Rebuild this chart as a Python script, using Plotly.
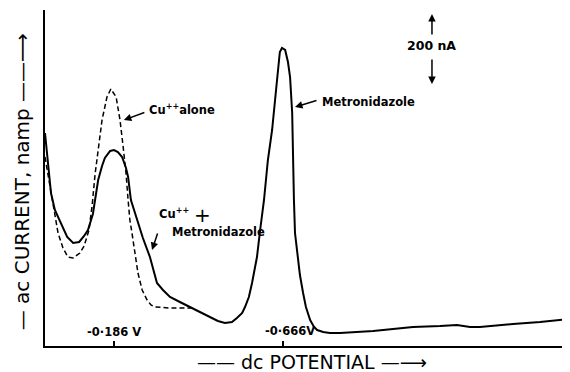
import plotly.graph_objects as go

# dc potential (V) and ac current (nA)
solid_v = [0.010, 0.001, -0.007, -0.018, -0.033, -0.053, -0.070, -0.087, -0.101, -0.112,
           -0.126, -0.132, -0.141, -0.152, -0.160, -0.175, -0.186, -0.197, -0.209, -0.220,
           -0.226, -0.234, -0.251, -0.268, -0.288, -0.308, -0.325, -0.345, -0.373, -0.402,
           -0.450, -0.481, -0.501, -0.521, -0.535, -0.550, -0.558, -0.569, -0.578, -0.586,
           -0.592, -0.601, -0.612, -0.623, -0.635, -0.649, -0.657, -0.663, -0.672, -0.680,
           -0.686, -0.692, -0.694, -0.697, -0.700, -0.709, -0.714, -0.723, -0.731, -0.743,
           -0.754, -0.763, -0.780, -0.799, -0.828, -0.922, -1.035, -1.112, -1.160, -1.197,
           -1.225, -1.319, -1.396, -1.481]
solid_i = [639, 543, 459, 408, 372, 327, 309, 312, 330, 348,
           396, 438, 498, 540, 564, 585, 588, 582, 567, 534,
           507, 438, 378, 324, 267, 189, 168, 147, 132, 117,
           93, 75, 69, 72, 84, 99, 117, 147, 189, 228,
           267, 348, 438, 558, 648, 798, 882, 894, 888, 852,
           807, 699, 549, 438, 339, 267, 213, 159, 117, 78,
           57, 48, 42, 39, 39, 45, 57, 60, 63, 57,
           57, 66, 72, 81]

dashed_v = [0.010, 0.001, -0.007, -0.016, -0.027, -0.041, -0.055, -0.070, -0.089, -0.101,
            -0.109, -0.115, -0.124, -0.132, -0.141, -0.152, -0.166, -0.177, -0.192, -0.203,
            -0.212, -0.220, -0.226, -0.231, -0.237, -0.246, -0.254, -0.266, -0.280, -0.291,
            -0.302, -0.345, -0.408]
dashed_i = [567, 513, 453, 408, 339, 294, 267, 264, 279, 300,
            327, 348, 423, 513, 588, 678, 747, 771, 747, 678,
            597, 519, 438, 378, 339, 273, 219, 168, 138, 123,
            117, 114, 114]

peak_ticks = [-0.186, -0.666]
peak_labels = ["-0·186 V", "-0·666V"]

BOLD = "DejaVu Sans"
fig = go.Figure()
fig.add_trace(go.Scatter(x=dashed_v, y=dashed_i, mode="lines",
                         line=dict(color="black", width=1.5, dash="5px,3px"),
                         hoverinfo="skip", showlegend=False))
fig.add_trace(go.Scatter(x=solid_v, y=solid_i, mode="lines",
                         line=dict(color="black", width=2),
                         hoverinfo="skip", showlegend=False))

ann_font = dict(family=BOLD, size=11.5, color="black", weight="bold")
arrow = dict(showarrow=True, arrowhead=2, arrowsize=1, arrowwidth=1.5, arrowcolor="black")
annotations = [
    # Cu++ alone
    dict(x=-0.280, y=711, text="Cu<sup>++</sup>alone", showarrow=False,
         xanchor="left", yanchor="middle", font=ann_font),
    dict(x=-0.214, y=678, ax=22, ay=-8, text="", **arrow),
    # Cu++ + Metronidazole
    dict(x=-0.308, y=399, text="Cu<sup>++</sup>", showarrow=False,
         xanchor="left", yanchor="middle", font=ann_font),
    dict(x=-0.436, y=393, text="+", showarrow=False,
         xanchor="center", yanchor="middle",
         font=dict(family="DejaVu Sans", size=20, color="black")),
    dict(x=-0.345, y=342, text="Metronidazole", showarrow=False,
         xanchor="left", yanchor="middle", font=ann_font),
    dict(x=-0.294, y=288, ax=6, ay=-18, text="", **arrow),
    # Metronidazole peak
    dict(x=-0.771, y=732, text="Metronidazole", showarrow=False,
         xanchor="left", yanchor="middle", font=ann_font),
    dict(x=-0.700, y=717, ax=23, ay=-7, text="", **arrow),
    # 200 nA scale
    dict(x=-1.089, y=903, text="200 nA", showarrow=False,
         xanchor="center", yanchor="middle",
         font=dict(family=BOLD, size=12.5, color="black", weight="bold")),
    dict(x=-1.089, y=996, ax=0, ay=22, text="", **arrow),
    dict(x=-1.089, y=786, ax=0, ay=-26, text="", **arrow),
    # peak potential labels
    dict(x=peak_ticks[0], y=42, text=peak_labels[0], showarrow=False,
         xanchor="center", yanchor="middle",
         font=dict(family=BOLD, size=11.5, color="black", weight="bold")),
    dict(x=-0.686, y=45, text=peak_labels[1], showarrow=False,
         xanchor="center", yanchor="middle",
         font=dict(family=BOLD, size=11.5, color="black", weight="bold")),
    # axis titles
    dict(xref="paper", yref="paper", x=-0.044, y=0.49,
         text="— ac CURRENT, namp ——⟶", textangle=-90, showarrow=False,
         xanchor="center", yanchor="middle",
         font=dict(family="DejaVu Sans", size=20, color="black")),
    dict(xref="paper", yref="paper", x=0.509, y=-0.049,
         text="—— dc POTENTIAL —⟶", showarrow=False,
         xanchor="center", yanchor="middle",
         font=dict(family="DejaVu Sans", size=19, color="black")),
]

# the page body has an 8px margin, so the figure is sized to end at the window edge
fig.update_layout(
    width=562, height=364,
    margin=dict(l=37, r=0, t=2, b=26),
    paper_bgcolor="white", plot_bgcolor="white",
    annotations=annotations,
    xaxis=dict(range=[0.010, -1.481], showline=True, linecolor="black", linewidth=2,
               showgrid=False, zeroline=False, tickvals=peak_ticks,
               ticks="inside", ticklen=5, tickwidth=1.5, tickcolor="black",
               showticklabels=False),
    yaxis=dict(range=[0, 1008], showline=True, linecolor="black", linewidth=2,
               showgrid=False, zeroline=False, showticklabels=False, ticks=""),
)

fig.write_html("out.html")
